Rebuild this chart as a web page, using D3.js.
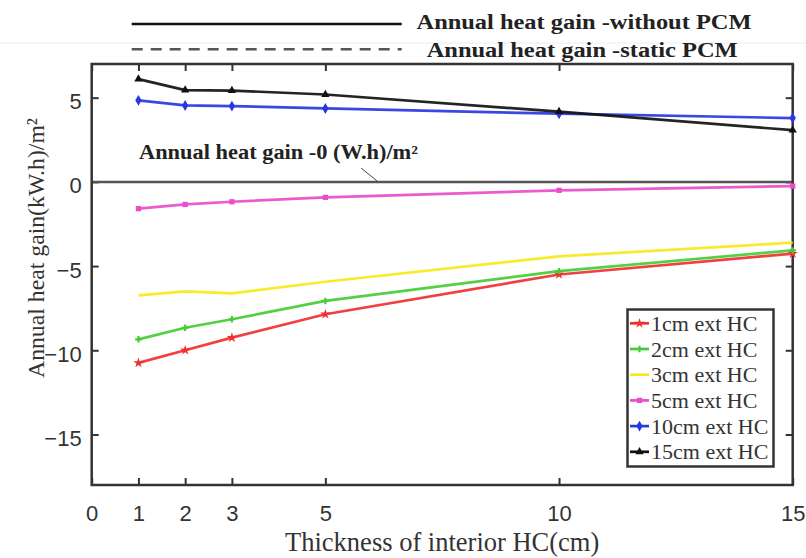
<!DOCTYPE html>
<html>
<head>
<meta charset="utf-8">
<script src="https://cdn.jsdelivr.net/npm/d3@7"></script>
<style>
  html, body { margin: 0; padding: 0; background: #fff; }
  svg { display: block; }
</style>
</head>
<body>
<svg id="chart" width="806" height="558"></svg>
<script>
// ---- data ----
const thickness = [1, 2, 3, 5, 10, 15];
const seriesNames = ["1cm ext HC", "2cm ext HC", "3cm ext HC", "5cm ext HC", "10cm ext HC", "15cm ext HC"];
const ext1cm  = [-10.75, -10.0, -9.25, -7.86, -5.5, -4.26];
const ext2cm  = [-9.35, -8.66, -8.16, -7.07, -5.3, -4.07];
const ext3cm  = [-6.74, -6.5, -6.62, -5.93, -4.42, -3.61];
const ext5cm  = [-1.59, -1.34, -1.18, -0.92, -0.5, -0.25];
const ext10cm = [4.84, 4.54, 4.5, 4.36, 4.05, 3.79];
const ext15cm = [6.1, 5.45, 5.42, 5.19, 4.17, 3.07];
const xTicks = [0, 1, 2, 3, 5, 10, 15];
const yTicks = [-15, -10, -5, 0, 5];
const seriesColors = ["#f03030", "#44cc33", "#f7e81a", "#ea4ccc", "#2838e0", "#111111"];
const seriesMarkers = ["star", "plus", "none", "square", "diamond", "triangle"];

const allSeries = [ext1cm, ext2cm, ext3cm, ext5cm, ext10cm, ext15cm];

// ---- layout ----
const svg = d3.select("#chart");
const L = 91.7, R = 792.7, T = 64, B = 485;
const x = d3.scaleLinear().domain([0, 15]).range([L, R]);
const y = d3.scaleLinear().domain([-18, 7]).range([B, T]);
const axisColor = "#333";

// faint scan line at top
svg.append("line").attr("x1", 0).attr("x2", 806).attr("y1", 43).attr("y2", 43)
  .attr("stroke", "#ececec").attr("stroke-width", 1);

// axes
const gx = svg.append("g").attr("transform", `translate(0,${B})`)
  .call(d3.axisBottom(x).tickValues(xTicks).tickSize(-7).tickPadding(20).tickFormat(d3.format("d")));
const gxt = svg.append("g").attr("transform", `translate(0,${T})`)
  .call(d3.axisTop(x).tickValues(xTicks).tickSize(-7).tickFormat(""));
const gy = svg.append("g").attr("transform", `translate(${L},0)`)
  .call(d3.axisLeft(y).tickValues(yTicks).tickSize(-7).tickPadding(10).tickFormat(d3.format("d")));
const gyr = svg.append("g").attr("transform", `translate(${R},0)`)
  .call(d3.axisRight(y).tickValues(yTicks).tickSize(-7).tickFormat(""));
[gx, gxt, gy, gyr].forEach(g => {
  g.select(".domain").remove();
  g.selectAll(".tick line").attr("stroke", axisColor).attr("stroke-width", 2);
  g.selectAll(".tick text").attr("fill", "#333").attr("font-family", "Liberation Sans, Arial, sans-serif").attr("font-size", 22);
});
gy.selectAll(".tick text").attr("dy", "0.5em");

// zero line
svg.append("line").attr("x1", L).attr("x2", R).attr("y1", y(0)).attr("y2", y(0))
  .attr("stroke", "#555").attr("stroke-width", 2.5);

// frame
svg.append("rect").attr("x", L).attr("y", T).attr("width", R - L).attr("height", B - T)
  .attr("fill", "none").attr("stroke", axisColor).attr("stroke-width", 2.5);

// axis titles
svg.append("text").attr("x", (L + R) / 2).attr("y", 551)
  .attr("text-anchor", "middle").attr("font-family", "Liberation Serif, 'Times New Roman', serif")
  .attr("font-size", 26.5).attr("fill", "#333").text("Thickness of interior HC(cm)");

svg.append("text").attr("transform", "translate(44,248) rotate(-90)")
  .attr("text-anchor", "middle").attr("font-family", "Liberation Serif, 'Times New Roman', serif")
  .attr("font-size", 24).attr("fill", "#333")
  .attr("textLength", 260).attr("lengthAdjust", "spacingAndGlyphs")
  .text("Annual heat gain(kW.h)/m²");

// markers
function drawMarker(g, type, cx, cy, color, s) {
  if (type === "none") return;
  if (type === "square") {
    g.append("rect").attr("x", cx - s * 0.55).attr("y", cy - s * 0.55).attr("width", s * 1.1).attr("height", s * 1.1).attr("fill", color);
  } else if (type === "diamond") {
    g.append("path").attr("d", d3.symbol(d3.symbolDiamond, s * s * 1.5)()).attr("transform", `translate(${cx},${cy})`).attr("fill", color);
  } else if (type === "triangle") {
    g.append("path").attr("d", d3.symbol(d3.symbolTriangle, s * s * 1.3)()).attr("transform", `translate(${cx},${cy})`).attr("fill", color);
  } else if (type === "plus") {
    g.append("path").attr("d", d3.symbol(d3.symbolCross, s * s * 1.0)()).attr("transform", `translate(${cx},${cy})`).attr("fill", color);
  } else if (type === "star") {
    g.append("path").attr("d", d3.symbol(d3.symbolStar, s * s * 1.4)()).attr("transform", `translate(${cx},${cy})`).attr("fill", color);
  }
}

// series lines
const line = d3.line().x((d, i) => x(thickness[i])).y(d => y(d));
const plotG = svg.append("g");
allSeries.forEach((vals, k) => {
  plotG.append("path").datum(vals).attr("d", line)
    .attr("fill", "none").attr("stroke", seriesColors[k]).attr("stroke-width", 2.7)
    .attr("stroke-linejoin", "round").attr("opacity", 0.92);
  vals.forEach((v, i) => drawMarker(plotG, seriesMarkers[k], x(thickness[i]), y(v), seriesColors[k], 4.8));
});

// legend box
const lg = svg.append("g");
lg.append("rect").attr("x", 627.5).attr("y", 309.5).attr("width", 146).attr("height", 157)
  .attr("fill", "#fff").attr("stroke", axisColor).attr("stroke-width", 2.5);
seriesNames.forEach((name, k) => {
  const cy = 323.3 + k * 25.7;
  lg.append("line").attr("x1", 630).attr("x2", 649).attr("y1", cy).attr("y2", cy)
    .attr("stroke", seriesColors[k]).attr("stroke-width", 2.7);
  drawMarker(lg, seriesMarkers[k], 639.5, cy, seriesColors[k], 4.8);
  lg.append("text").attr("x", 651).attr("y", cy + 7.5)
    .attr("font-family", "Liberation Serif, 'Times New Roman', serif").attr("font-size", 22)
    .attr("fill", "#333").text(name);
});

// top legend (line styles)
svg.append("line").attr("x1", 131.7).attr("x2", 401.7).attr("y1", 24).attr("y2", 24)
  .attr("stroke", "#111").attr("stroke-width", 2.5);
svg.append("line").attr("x1", 131.7).attr("x2", 401.7).attr("y1", 49.3).attr("y2", 49.3)
  .attr("stroke", "#555").attr("stroke-width", 2.5).attr("stroke-dasharray", "11,8");
svg.append("text").attr("x", 416.5).attr("y", 28.5)
  .attr("font-family", "Liberation Serif, 'Times New Roman', serif").attr("font-weight", "bold")
  .attr("font-size", 20).attr("fill", "#222")
  .attr("textLength", 335).attr("lengthAdjust", "spacingAndGlyphs")
  .text("Annual heat gain -without PCM");
svg.append("text").attr("x", 426.7).attr("y", 56.5)
  .attr("font-family", "Liberation Serif, 'Times New Roman', serif").attr("font-weight", "bold")
  .attr("font-size", 20).attr("fill", "#222")
  .attr("textLength", 311).attr("lengthAdjust", "spacingAndGlyphs")
  .text("Annual heat gain -static PCM");

// zero annotation
svg.append("text").attr("x", 139).attr("y", 159)
  .attr("font-family", "Liberation Serif, 'Times New Roman', serif").attr("font-weight", "bold")
  .attr("font-size", 20).attr("fill", "#222")
  .attr("textLength", 279).attr("lengthAdjust", "spacingAndGlyphs")
  .text("Annual heat gain -0 (W.h)/m²");
svg.append("line").attr("x1", 361).attr("y1", 168).attr("x2", 377).attr("y2", y(0) - 1)
  .attr("stroke", "#444").attr("stroke-width", 1);
</script>
</body>
</html>
